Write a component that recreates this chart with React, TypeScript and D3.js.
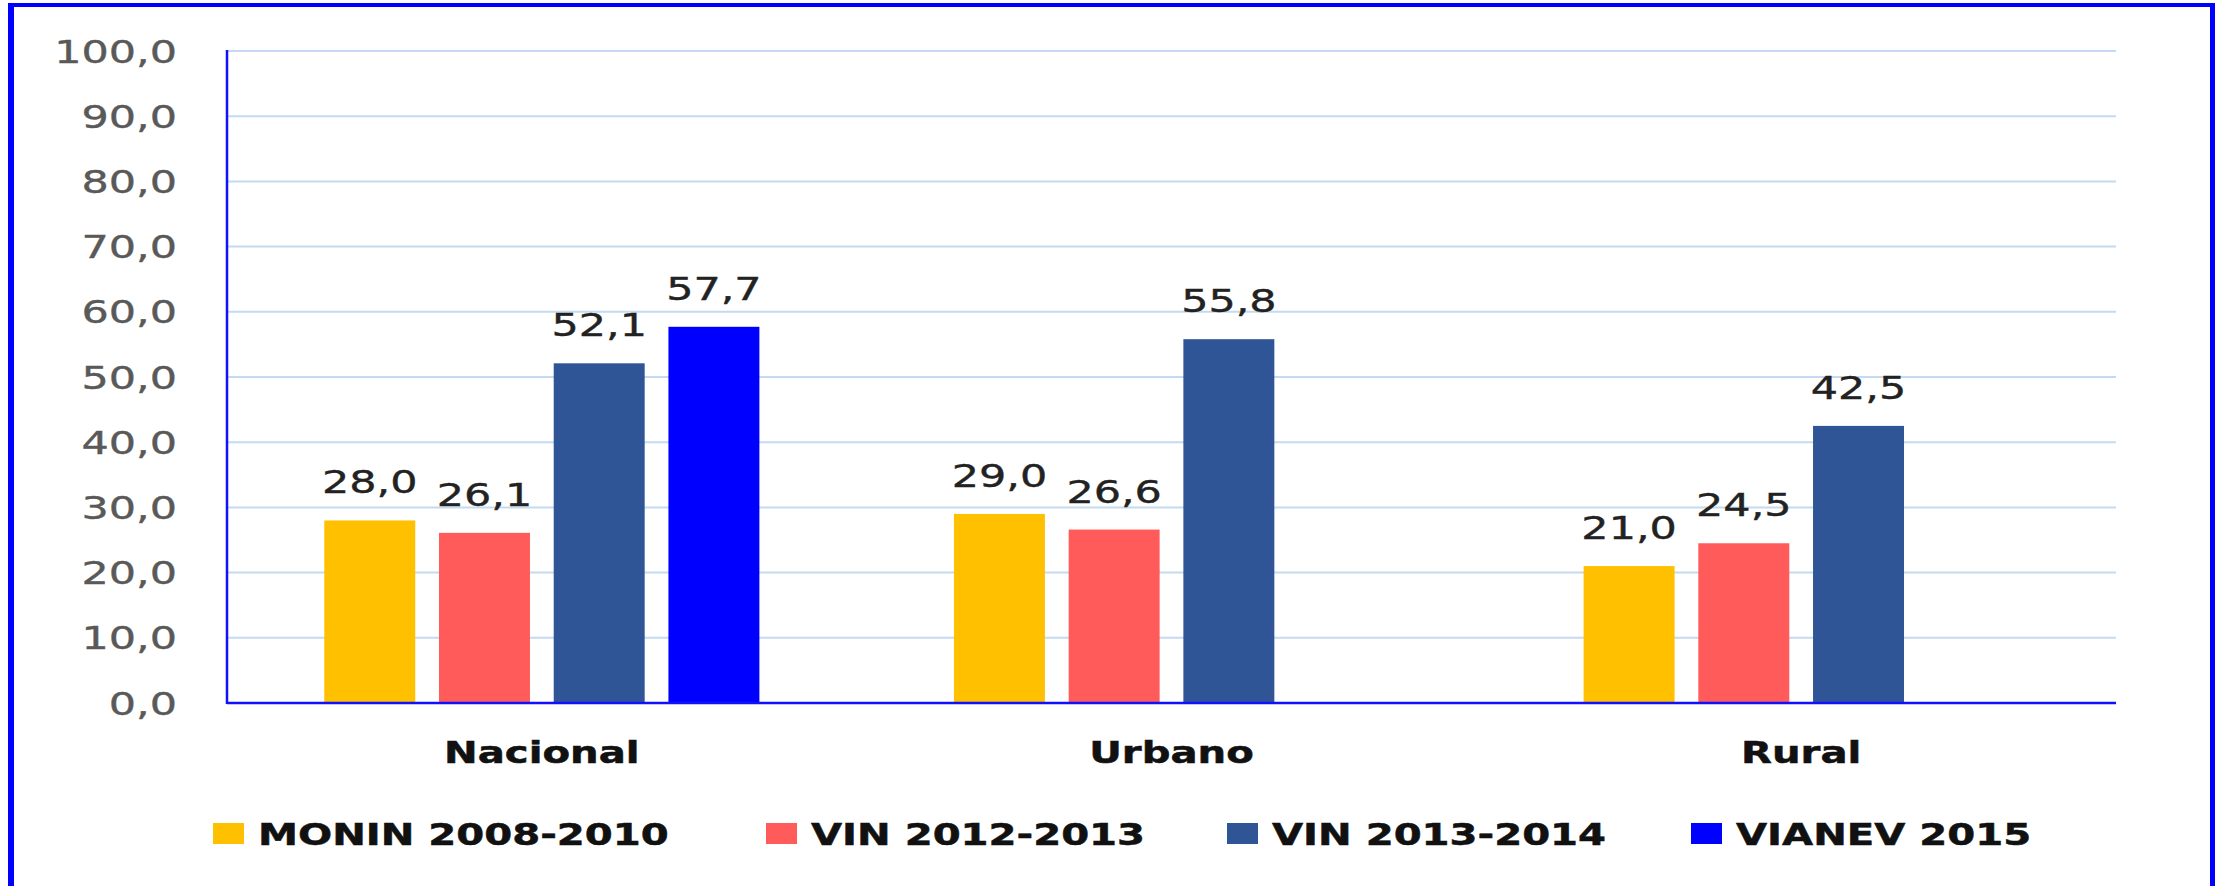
import React from "react";
import * as d3 from "d3";

const categories = ["Nacional", "Urbano", "Rural"];
const seriesNames = ["MONIN 2008-2010", "VIN 2012-2013", "VIN 2013-2014", "VIANEV 2015"];
const seriesColors = ["#FFC000", "#FF5B5B", "#2F5597", "#0000FF"];
const monin = [28.0, 29.0, 21.0];
const vin1213 = [26.1, 26.6, 24.5];
const vin1314 = [52.1, 55.8, 42.5];
const vianev = [57.7, null, null];
const yTicks = [0, 10, 20, 30, 40, 50, 60, 70, 80, 90, 100];

const W = 2221;
const H = 886;
const SX = 1.34;

export default function App() {
  const left = 227;
  const right = 2116;
  const top = 51;
  const bottom = 703;

  const x0 = d3.scaleBand<string>().domain(categories).range([left, right]).paddingInner(0).paddingOuter(0);
  const x1 = d3
    .scaleBand<string>()
    .domain(seriesNames)
    .range([0, x0.bandwidth()])
    .paddingInner(0.207)
    .paddingOuter(0.848);
  const y = d3.scaleLinear().domain([0, 100]).range([bottom, top]);
  const fmt = (v: number) => d3.format(".1f")(v).replace(".", ",");

  const allSeries = [monin, vin1213, vin1314, vianev];

  const legendX = [213, 766, 1227, 1691];

  const sText = (x: number, yy: number) => `translate(${x},${yy}) scale(${SX},1)`;

  return (
    <svg
      width={W}
      height={H}
      style={{ position: "absolute", left: 0, top: 0, background: "#fff" }}
      fontFamily="'DejaVu Sans', Verdana, sans-serif"
    >
      <rect x={0} y={0} width={W} height={H} fill="#fff" />
      {/* frame */}
      <line x1={11} y1={3} x2={11} y2={H + 10} stroke="#0000FF" strokeWidth={6} />
      <line x1={8} y1={5} x2={2215} y2={5} stroke="#0000FF" strokeWidth={4} />
      <line x1={2212.5} y1={3} x2={2212.5} y2={H + 10} stroke="#0000FF" strokeWidth={5} />

      {/* gridlines */}
      {yTicks.map((t) =>
        t === 0 ? null : (
          <line key={t} x1={left} x2={right} y1={y(t)} y2={y(t)} stroke="#C3DAF0" strokeWidth={2} />
        )
      )}

      {/* y tick labels */}
      {yTicks.map((t) => (
        <text
          key={"yl" + t}
          transform={sText(177, y(t) + 11.5)}
          textAnchor="end"
          fontSize={32}
          fill="#595959"
          stroke="#595959"
          strokeWidth={0.4}
        >
          {fmt(t)}
        </text>
      ))}

      {/* bars */}
      {categories.map((c, ci) => (
        <g key={c} transform={`translate(${x0(c)},0)`}>
          {seriesNames.map((s, si) => {
            const v = allSeries[si][ci];
            if (v === null || v === undefined) return null;
            const bx = x1(s)!;
            const bw = x1.bandwidth();
            return (
              <g key={s}>
                <rect x={bx} y={y(v)} width={bw} height={bottom - y(v)} fill={seriesColors[si]} />
                <text
                  transform={sText(bx + bw / 2, y(v) - 27)}
                  textAnchor="middle"
                  fontSize={32}
                  fill="#222"
                  stroke="#222"
                  strokeWidth={0.4}
                >
                  {fmt(v)}
                </text>
              </g>
            );
          })}
        </g>
      ))}

      {/* axes */}
      <line x1={left} y1={top - 1} x2={left} y2={bottom + 1} stroke="#1010FF" strokeWidth={2.5} />
      <line x1={left} y1={bottom} x2={right} y2={bottom} stroke="#1010FF" strokeWidth={2.5} />

      {/* category labels */}
      {categories.map((c) => (
        <text
          key={"cl" + c}
          transform={sText(x0(c)! + x0.bandwidth() / 2, 763)}
          textAnchor="middle"
          fontSize={30}
          fontWeight="bold"
          fill="#111"
          stroke="#111"
          strokeWidth={0.5}
        >
          {c}
        </text>
      ))}

      {/* legend */}
      {seriesNames.map((s, i) => (
        <g key={"lg" + s}>
          <rect x={legendX[i]} y={823} width={31} height={21} fill={seriesColors[i]} />
          <text
            transform={sText(legendX[i] + 45, 845)}
            fontSize={30}
            fontWeight="bold"
            fill="#111"
            stroke="#111"
            strokeWidth={0.5}
          >
            {s}
          </text>
        </g>
      ))}
    </svg>
  );
}
